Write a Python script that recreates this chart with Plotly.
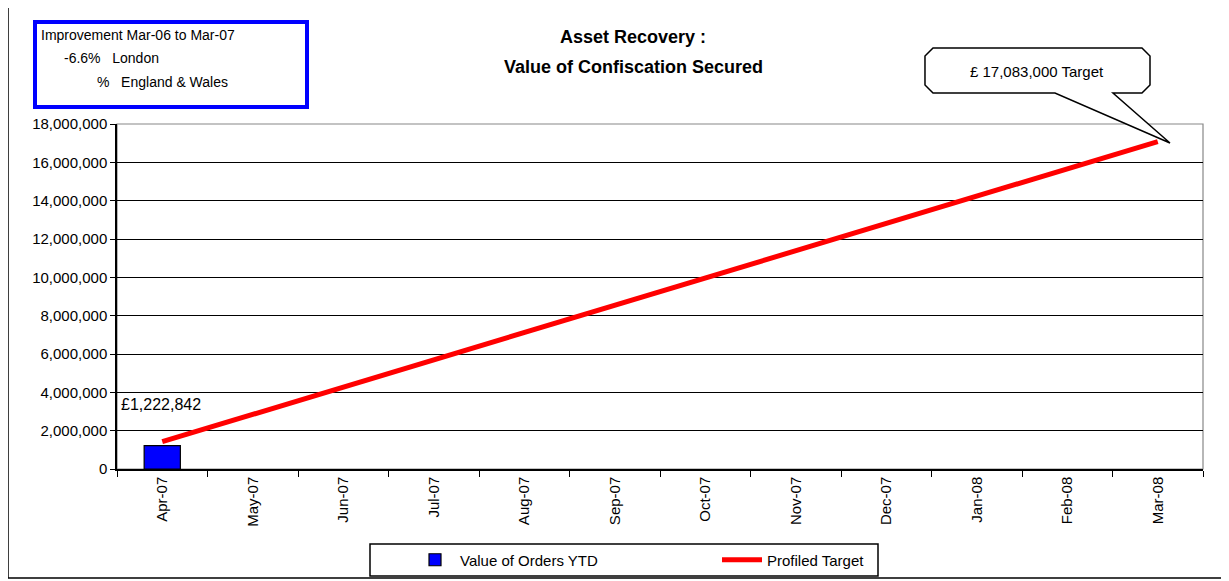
import plotly.graph_objects as go

months = ['Apr-07', 'May-07', 'Jun-07', 'Jul-07', 'Aug-07', 'Sep-07',
          'Oct-07', 'Nov-07', 'Dec-07', 'Jan-08', 'Feb-08', 'Mar-08']
orders_ytd = [1222842, None, None, None, None, None, None, None, None, None, None, None]
profiled_target = [1423583, 2847167, 4270750, 5694333, 7117917, 8541500,
                   9965083, 11388667, 12812250, 14235833, 15659417, 17083000]
y_ticks = [0, 2000000, 4000000, 6000000, 8000000, 10000000, 12000000,
           14000000, 16000000, 18000000]

# page body has an 8px margin, so figure pixels are page pixels minus 8
OFF = 8
W, H = 1229 - OFF, 581 - OFF
L, R, T, B = 117, 1203, 124, 469
FONT = 'Arial, Liberation Sans, sans-serif'


def px(x, y):
    # page pixel position -> paper coordinates
    return (x - L) / (R - L), (B - y) / (B - T)


def path(points):
    s = ''
    for i, (x, y) in enumerate(points):
        u, v = px(x, y)
        s += ('M' if i == 0 else 'L') + f'{u:.4f},{v:.4f} '
    return s + 'Z'


def box(xa, ya, xb, yb, **kw):
    u0, v0 = px(xa, ya)
    u1, v1 = px(xb, yb)
    return dict(type='rect', xref='paper', yref='paper', x0=u0, y0=v1, x1=u1, y1=v0, **kw)


fig = go.Figure()
fig.add_trace(go.Bar(x=months, y=orders_ytd, name='Value of Orders YTD',
                     marker=dict(color='#0000ff', line=dict(color='black', width=1.2)),
                     width=0.4))
fig.add_trace(go.Scatter(x=months, y=profiled_target, name='Profiled Target',
                         mode='lines', line=dict(color='#ff0000', width=5)))

shapes = [
    box(8, 7, 1225, 578, line=dict(color='black', width=1.5)),  # outer frame
    dict(type='rect', xref='paper', yref='paper', x0=0, y0=0, x1=1, y1=1,
         line=dict(color='#888888', width=1.2), layer='below'),  # plot area
    box(35, 22, 307, 107, line=dict(color='#0000ff', width=4), fillcolor='white'),
    box(370, 544, 878, 576, line=dict(color='black', width=1.5), fillcolor='white'),  # legend
]
# callout
r = 8
callout = [(925 + r, 48), (1150 - r, 48), (1150, 48 + r), (1150, 93 - r), (1150 - r, 93),
           (1113, 93), (1170, 143), (1055, 93),
           (925 + r, 93), (925, 93 - r), (925, 48 + r)]
shapes.append(dict(type='path', xref='paper', yref='paper', path=path(callout),
                   line=dict(color='black', width=1.5), fillcolor='white'))

ann = []


def text(t, x, y, size=14, anchor='left', bold=False):
    u, v = px(x, y)
    ann.append(dict(text=f'<b>{t}</b>' if bold else t, x=u, y=v, xref='paper', yref='paper',
                    xanchor=anchor, yanchor='middle', showarrow=False,
                    font=dict(family=FONT, size=size, color='black')))


text('Asset Recovery :', 633, 37, 18, 'center', True)
text('Value of Confiscation Secured', 633, 67, 18, 'center', True)
text('Improvement Mar-06 to Mar-07', 39, 35, 14)
text('-6.6%\u00a0\u00a0\u00a0London', 62, 58, 14)
text('%\u00a0\u00a0\u00a0England &amp; Wales', 95, 82, 14)
text('£ 17,083,000 Target', 1037, 71, 15, 'center')
text('£1,222,842', 119, 404, 16)

lx, ly = px(410, 560)
fig.update_layout(
    width=W, height=H,
    margin=dict(l=L - OFF, r=W - (R - OFF), t=T - OFF, b=H - (B - OFF), pad=0,
                autoexpand=False),
    paper_bgcolor='white', plot_bgcolor='white',
    font=dict(family=FONT, size=14, color='black'),
    showlegend=True,
    legend=dict(orientation='h', x=lx, y=ly, xanchor='left', yanchor='middle',
                borderwidth=0, bgcolor='rgba(0,0,0,0)',
                font=dict(family=FONT, size=15), entrywidth=252, entrywidthmode='pixels',
                itemwidth=40, traceorder='normal'),
    shapes=shapes, annotations=ann,
)
fig.update_xaxes(type='category', tickangle=-90, tickson='boundaries', ticks='outside',
                 ticklen=6, tickcolor='black', showline=True, linecolor='black', linewidth=1.5,
                 showgrid=False, tickfont=dict(family=FONT, size=15))
fig.update_yaxes(range=[0, 18000000], tickvals=y_ticks, tickformat=',d', ticks='outside',
                 ticklen=5, tickcolor='black', showline=True, linecolor='black', linewidth=1.5,
                 showgrid=True, gridcolor='black', gridwidth=1.2, zeroline=False,
                 tickfont=dict(family=FONT, size=15))

fig.write_html('out.html')
